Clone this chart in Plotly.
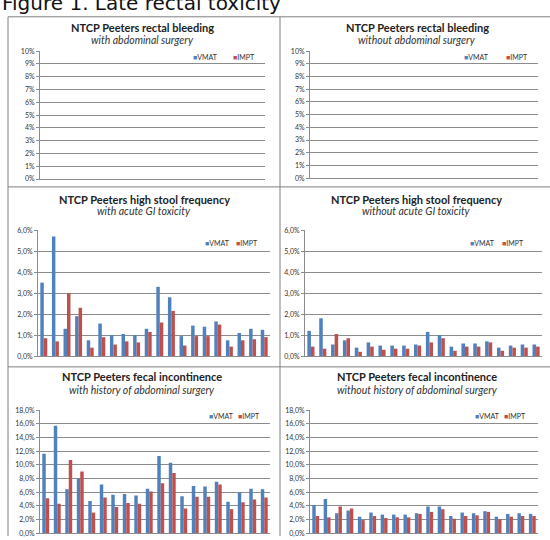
import plotly.graph_objects as go

W, H = 550, 540

# ---------------- data ----------------
patients = [f"P{i}" for i in range(1, 21)]
series_names = ["VMAT", "IMPT"]
series_colors = ["#4F81BD", "#C0504D"]

rb_with_vmat = [0, 0, 0, 0, 0, 0, 0, 0, 0, 0, 0, 0, 0, 0, 0, 0, 0, 0, 0, 0]
rb_with_impt = [0, 0, 0, 0, 0, 0, 0, 0, 0, 0, 0, 0, 0, 0, 0, 0, 0, 0, 0, 0]
rb_without_vmat = [0, 0, 0, 0, 0, 0, 0, 0, 0, 0, 0, 0, 0, 0, 0, 0, 0, 0, 0, 0]
rb_without_impt = [0, 0, 0, 0, 0, 0, 0, 0, 0, 0, 0, 0, 0, 0, 0, 0, 0, 0, 0, 0]

hsf_with_vmat = [3.5, 5.7, 1.3, 1.9, 0.75, 1.55, 1.0, 1.05, 1.0, 1.3,
                 3.3, 2.8, 0.95, 1.45, 1.4, 1.65, 0.75, 1.1, 1.3, 1.25]
hsf_with_impt = [0.85, 0.7, 3.0, 2.3, 0.4, 0.9, 0.55, 0.7, 0.65, 1.15,
                 1.6, 2.15, 0.5, 0.95, 0.95, 1.5, 0.45, 0.75, 0.8, 0.9]
hsf_without_vmat = [1.2, 1.8, 0.55, 0.75, 0.4, 0.65, 0.5, 0.5, 0.5, 0.55,
                    1.15, 1.0, 0.45, 0.6, 0.6, 0.7, 0.4, 0.5, 0.55, 0.55]
hsf_without_impt = [0.45, 0.35, 1.05, 0.85, 0.2, 0.45, 0.3, 0.35, 0.35, 0.5,
                    0.65, 0.85, 0.25, 0.45, 0.45, 0.65, 0.25, 0.4, 0.4, 0.45]

fi_with_vmat = [11.6, 15.7, 6.4, 8.0, 4.7, 7.1, 5.6, 5.7, 5.5, 6.5,
                11.3, 10.3, 5.4, 6.9, 6.8, 7.5, 4.6, 5.9, 6.5, 6.4]
fi_with_impt = [5.1, 4.3, 10.7, 9.0, 3.0, 5.2, 3.8, 4.4, 4.3, 6.1,
                7.3, 8.8, 3.6, 5.3, 5.3, 7.1, 3.5, 4.5, 4.9, 5.2]
fi_without_vmat = [4.1, 5.0, 2.9, 3.3, 2.4, 3.0, 2.7, 2.7, 2.7, 2.9,
                   3.9, 3.9, 2.5, 3.0, 2.9, 3.2, 2.4, 2.8, 2.9, 2.8]
fi_without_impt = [2.5, 2.3, 3.9, 3.6, 1.9, 2.5, 2.2, 2.3, 2.3, 2.8,
                   3.1, 3.5, 2.1, 2.5, 2.6, 3.1, 2.0, 2.4, 2.5, 2.5]

rb_ticks = [0, 1, 2, 3, 4, 5, 6, 7, 8, 9, 10]
rb_ticktext = ["0%", "1%", "2%", "3%", "4%", "5%", "6%", "7%", "8%", "9%", "10%"]
hsf_ticks = [0, 1, 2, 3, 4, 5, 6]
hsf_ticktext = ["0,0%", "1,0%", "2,0%", "3,0%", "4,0%", "5,0%", "6,0%"]
fi_ticks = [0, 2, 4, 6, 8, 10, 12, 14, 16, 18]
fi_ticktext = ["0,0%", "2,0%", "4,0%", "6,0%", "8,0%", "10,0%", "12,0%",
               "14,0%", "16,0%", "18,0%"]

figure_title = "Figure 1. Late rectal toxicity"
titles = ["NTCP Peeters rectal bleeding", "NTCP Peeters rectal bleeding",
          "NTCP Peeters high stool frequency", "NTCP Peeters high stool frequency",
          "NTCP Peeters fecal incontinence", "NTCP Peeters fecal incontinence"]
subtitles = ["with abdominal surgery", "without abdominal surgery",
             "with acute GI toxicity", "without acute GI toxicity",
             "with history of abdominal surgery", "without history of abdominal surgery"]

panels_data = [
    (rb_with_vmat, rb_with_impt, rb_ticks, rb_ticktext),
    (rb_without_vmat, rb_without_impt, rb_ticks, rb_ticktext),
    (hsf_with_vmat, hsf_with_impt, hsf_ticks, hsf_ticktext),
    (hsf_without_vmat, hsf_without_impt, hsf_ticks, hsf_ticktext),
    (fi_with_vmat, fi_with_impt, fi_ticks, fi_ticktext),
    (fi_without_vmat, fi_without_impt, fi_ticks, fi_ticktext),
]

# ---------------- layout geometry (pixels) ----------------
boxes = [
    (40, 265, 47, 177),
    (310, 538, 47, 176),
    (38, 270, 229, 357),
    (305, 542, 229, 357),
    (40, 270, 412, 537),
    (310, 538, 412, 537),
]
title_pos = [(142, 23, 36), (417, 23, 36), (144, 198, 210), (416, 198, 210),
             (142, 378, 392), (417, 378, 392)]
legend_pos = [(191, 231, 53), (462, 504, 53), (203, 234, 242), (468, 500, 242),
              (207, 236, 418), (473, 502, 418)]


def px(x):
    return x / W


def py(y):
    return 1 - y / H


GRID = "#8c8c8c"
fig = go.Figure()
layout = dict(
    width=W, height=H, margin=dict(l=0, r=0, t=0, b=0),
    paper_bgcolor="white", plot_bgcolor="white",
    showlegend=False, barmode="group", bargap=0.4, bargroupgap=0,
    font=dict(family="Lato", color="#222222"),
)
annotations = []
shapes = []

for i, ((v, m, tv, tt), (x0, x1, yt, yb)) in enumerate(zip(panels_data, boxes)):
    n = "" if i == 0 else str(i + 1)
    xa, ya = "x" + n, "y" + n
    for vals, name, col in zip((v, m), series_names, series_colors):
        fig.add_trace(go.Bar(x=patients, y=vals, name=name, marker_color=col,
                             marker_line_width=0, xaxis=xa, yaxis=ya,
                             showlegend=False))
    layout["xaxis" + n] = dict(
        domain=[px(x0), px(x1)], anchor=ya, showticklabels=False,
        showgrid=False, ticks="", showline=True, linecolor=GRID, linewidth=1,
        zeroline=False, fixedrange=True)
    layout["yaxis" + n] = dict(
        domain=[py(yb), py(yt)], anchor=xa, range=[tv[0], tv[-1]],
        tickmode="array", tickvals=tv, ticktext=tt,
        showgrid=True, gridcolor=GRID, gridwidth=1, zeroline=False,
        showline=True, linecolor=GRID, linewidth=1,
        ticks="outside", ticklen=3, tickcolor=GRID,
        tickfont=dict(size=7, color="#333333", family="Lato"), fixedrange=True)

    tx, ty, sy = title_pos[i]
    annotations.append(dict(x=px(tx), y=py(ty), xref="paper", yref="paper",
                            text="<b>" + titles[i] + "</b>", showarrow=False,
                            xanchor="center", yanchor="middle",
                            font=dict(size=11, family="Lato", color="#222222")))
    annotations.append(dict(x=px(tx), y=py(sy), xref="paper", yref="paper",
                            text="<i>" + subtitles[i] + "</i>", showarrow=False,
                            xanchor="center", yanchor="middle",
                            font=dict(size=10.5, family="Lato", color="#333333")))
    lx1, lx2, ly = legend_pos[i]
    for lx, name, col in zip((lx1, lx2), series_names, series_colors):
        annotations.append(dict(
            x=px(lx), y=py(ly), xref="paper", yref="paper",
            text=f'<span style="color:{col}">■</span>{name}', showarrow=False,
            xanchor="left", yanchor="middle",
            font=dict(size=7, family="Lato", color="#333333")))

annotations.append(dict(x=0, y=py(-2), xref="paper", yref="paper",
                        text=figure_title, showarrow=False,
                        xanchor="left", yanchor="middle",
                        font=dict(size=20, family="DejaVu Sans", color="#111111")))

FRAME = "#7f7f7f"
for (a, b, c, d) in [(8, 12, 550, 12), (8, 12, 8, 540), (280, 12, 280, 540),
                     (8, 185, 550, 185), (8, 368, 550, 368)]:
    shapes.append(dict(type="line", xref="paper", yref="paper",
                       x0=px(a), y0=py(b), x1=px(c), y1=py(d),
                       line=dict(color=FRAME, width=1)))

layout["annotations"] = annotations
layout["shapes"] = shapes
fig.update_layout(**layout)
fig.write_html("out.html", config={"displayModeBar": False},
               post_script="document.body.style.margin='0';"
                           "document.body.style.overflow='hidden';")
